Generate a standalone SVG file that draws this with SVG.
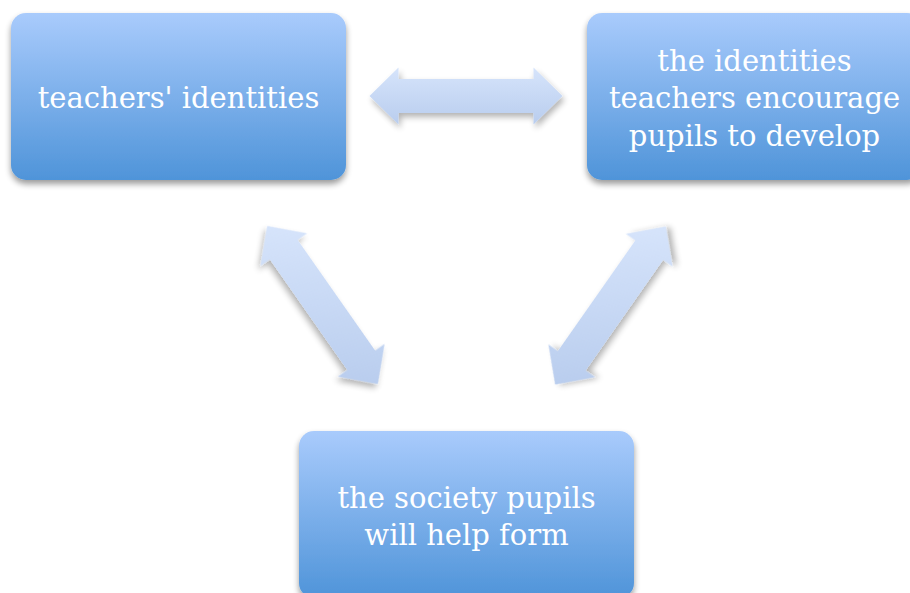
<svg xmlns="http://www.w3.org/2000/svg" width="910" height="593" viewBox="0 0 910 593">
  <defs>
    <linearGradient id="boxGrad" x1="0" y1="0" x2="0" y2="1">
      <stop offset="0" stop-color="#a9cbfc"/>
      <stop offset="1" stop-color="#4f94d9"/>
    </linearGradient>
    <linearGradient id="arrH" gradientUnits="userSpaceOnUse" x1="0" y1="-28.5" x2="0" y2="28.5">
      <stop offset="0" stop-color="#d6e4fb"/>
      <stop offset="1" stop-color="#b9cdee"/>
    </linearGradient>
    <linearGradient id="arrL" gradientUnits="userSpaceOnUse" x1="-65.5" y1="-45.9" x2="65.5" y2="45.9">
      <stop offset="0" stop-color="#d6e4fb"/>
      <stop offset="1" stop-color="#b9cdee"/>
    </linearGradient>
    <linearGradient id="arrR" gradientUnits="userSpaceOnUse" x1="65.5" y1="-45.9" x2="-65.5" y2="45.9">
      <stop offset="0" stop-color="#d6e4fb"/>
      <stop offset="1" stop-color="#b9cdee"/>
    </linearGradient>
    <filter id="boxShadow" x="-10%" y="-10%" width="120%" height="130%">
      <feGaussianBlur in="SourceAlpha" stdDeviation="3"/>
      <feOffset dx="0" dy="4" result="b"/>
      <feComponentTransfer><feFuncA type="linear" slope="0.4"/></feComponentTransfer>
      <feMerge><feMergeNode/><feMergeNode in="SourceGraphic"/></feMerge>
    </filter>
    <filter id="arrShadow" filterUnits="userSpaceOnUse" x="-200" y="-200" width="400" height="400">
      <feGaussianBlur in="SourceAlpha" stdDeviation="3"/>
      <feOffset dx="2" dy="4" result="b"/>
      <feComponentTransfer><feFuncA type="linear" slope="0.3"/></feComponentTransfer>
      <feMerge><feMergeNode/><feMergeNode in="SourceGraphic"/></feMerge>
    </filter>
    <path id="dblArrow" d="M -96.5 0 L -67.5 -28.5 L -67.5 -17 L 67.5 -17 L 67.5 -28.5 L 96.5 0 L 67.5 28.5 L 67.5 17 L -67.5 17 L -67.5 28.5 Z"/>
  </defs>
  <style>
    .box { fill: url(#boxGrad); filter: url(#boxShadow); }
    .label { fill: #ffffff; font-family: "DejaVu Serif", "Liberation Serif", serif; font-size: 29px; text-anchor: middle; }
  </style>
  <rect width="910" height="593" fill="#ffffff"/>

  <g id="connectors">
    <g transform="translate(466,96)" filter="url(#arrShadow)">
      <use href="#dblArrow" fill="url(#arrH)"/>
    </g>
    <g transform="translate(322.5,305) rotate(55)" filter="url(#arrShadow)">
      <use href="#dblArrow" fill="url(#arrL)"/>
    </g>
    <g transform="translate(610.5,305.5) rotate(-55)" filter="url(#arrShadow)">
      <use href="#dblArrow" fill="url(#arrR)"/>
    </g>
  </g>

  <g id="node-teachers-identities">
    <rect class="box" x="11" y="13" width="335" height="167" rx="15" ry="15"/>
    <text class="label" x="178.5" y="108">teachers' identities</text>
  </g>

  <g id="node-identities-encourage">
    <rect class="box" x="587" y="13" width="335" height="167" rx="15" ry="15"/>
    <text class="label" x="754.5" y="71">the identities</text>
    <text class="label" x="754.5" y="108">teachers encourage</text>
    <text class="label" x="754.5" y="146">pupils to develop</text>
  </g>

  <g id="node-society">
    <rect class="box" x="299" y="431" width="335" height="167" rx="15" ry="15"/>
    <text class="label" x="466.5" y="508">the society pupils</text>
    <text class="label" x="466.5" y="545">will help form</text>
  </g>
</svg>
